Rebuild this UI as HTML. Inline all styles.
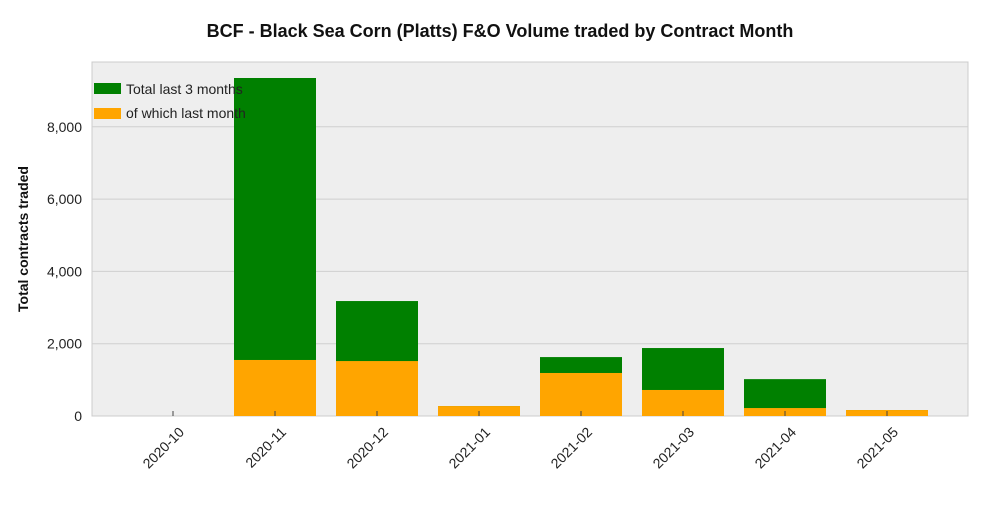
<!DOCTYPE html>
<html><head><meta charset="utf-8"><style>
body{margin:0;background:#fff;}
svg{font-family:"Liberation Sans",sans-serif;}
</style></head><body>
<svg id="chart" width="1000" height="500">
<text x="500" y="37" text-anchor="middle" font-size="18" font-weight="bold" fill="#111">BCF - Black Sea Corn (Platts) F&amp;O Volume traded by Contract Month</text>
<rect x="92" y="62" width="876" height="354" fill="#eeeeee" stroke="#cccccc"/>
<g id="grid"></g><g id="bars"></g><g id="xaxis"></g><g id="yaxis"></g>
<text transform="translate(28,239) rotate(-90)" text-anchor="middle" font-size="14" font-weight="bold" fill="#111">Total contracts traded</text>
<g>
<rect x="94" y="83" width="27" height="11" fill="#008000"/>
<text x="126" y="94" font-size="14" fill="#222">Total last 3 months</text>
<rect x="94" y="108" width="27" height="11" fill="#ffa500"/>
<text x="126" y="118" font-size="14" fill="#222">of which last month</text>
</g>
</svg>
<script>
const categories=["2020-10","2020-11","2020-12","2021-01","2021-02","2021-03","2021-04","2021-05"];
const totalValues=[0,9350,3180,275,1630,1880,1020,165];
const lastMonthValues=[0,1550,1520,275,1190,720,220,165];
const yTicks=[0,2000,4000,6000,8000];
const NS="http://www.w3.org/2000/svg";
const y=v=>416-v*(72.3/2000);
const x=i=>173+i*102;
function mk(tag,attrs,parent){const e=document.createElementNS(NS,tag);for(const k in attrs)e.setAttribute(k,attrs[k]);document.getElementById(parent).appendChild(e);return e;}
yTicks.forEach(t=>{
 if(t>0){const g=mk('line',{x1:92,x2:968,y1:y(t),y2:y(t),stroke:'#cfcfcf','stroke-width':1},'grid');
 
 }
 const l=mk('text',{x:82,y:y(t)+5,'text-anchor':'end','font-size':14,fill:'#222'},'yaxis');
 l.textContent=t.toLocaleString('en-US');
 
 
});
categories.forEach((c,i)=>{
 const cx=x(i);
 if(totalValues[i]>0){
 const b=mk('rect',{x:cx-41,width:82,y:y(totalValues[i]),height:416-y(totalValues[i]),fill:'#008000'},'bars');
 
 }
 if(lastMonthValues[i]>0){
 const o=mk('rect',{x:cx-41,width:82,y:y(lastMonthValues[i]),height:416-y(lastMonthValues[i]),fill:'#ffa500'},'bars');
 
 }
 const t=mk('line',{x1:cx,x2:cx,y1:411,y2:416,stroke:'#444'},'xaxis');
 
 
 const l=mk('text',{'text-anchor':'end','font-size':14,fill:'#222',transform:`translate(${cx+12},${433}) rotate(-45)`},'xaxis');
 l.textContent=c;
 
 
});
</script>
</body></html>
